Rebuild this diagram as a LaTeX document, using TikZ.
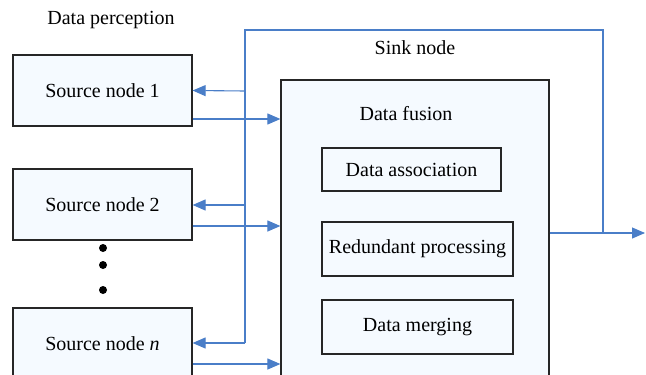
\documentclass[tikz,border=0pt]{standalone}
\usepackage{fontspec}
\setmainfont{Liberation Serif}
\usepackage{tikz}
\usetikzlibrary{arrows.meta, positioning}
\definecolor{flowblue}{RGB}{74,126,200}
\definecolor{boxfill}{RGB}{245,250,255}

\tikzset{
  srcbox/.style={draw=black!85, line width=0.6pt, fill=boxfill,
    minimum width=89.5pt, minimum height=35.5pt, inner sep=0pt},
  subbox/.style={draw=black!85, line width=0.6pt, fill=boxfill, inner sep=0pt},
  flow/.style={draw=flowblue, line width=0.55pt},
  flowarr/.style={flow, -{Triangle[length=6.5pt,width=5.5pt]}}
}

\begin{document}
\begin{tikzpicture}[x=0.5pt, y=-0.5pt]
  \clip (0,0) rectangle (646,374);
  \node (percep) at (111,20) {Data perception};
  \node[srcbox] (src1) at (102.5,90.5) {Source node 1};
  \node[srcbox] (src2) at (102.5,204.5) {Source node 2};
  \node[srcbox] (srcn) at (102.5,343.5) {Source node \textit{n}};
  \foreach \y in {248,265,290}
    \fill (103,\y) circle (2pt);

  \node[subbox, minimum width=134pt, minimum height=153pt] (fusion) at (415,233) {};
  \node (sink) at (415,48) {Sink node};
  \node (fustitle) at (406,114) {Data fusion};
  \node[subbox, minimum width=89.5pt, minimum height=21.5pt] (assoc) at (411.5,169.5) {Data association};
  \node[subbox, minimum width=95.5pt, minimum height=27pt] (redund) at (417.5,249) {Redundant processing};
  \node[subbox, minimum width=95.5pt, minimum height=27pt] (merge) at (417.5,327) {Data merging};

  % output and feedback
  \coordinate (out) at (645,233);
  \coordinate (fbr) at (603,233);
  \coordinate (fbl) at (245,30);
  \draw[flowarr] (fusion.east) -- (out);
  \draw[flow] (fbr) -- (fbr |- fbl) -- (fbl) -- (245,343);
  \draw[flowarr] (245,91) -- (src1.east);
  \draw[flowarr] (245,205) -- (src2.east |- 0,205);
  \draw[flowarr] (245,343) -- (srcn.east |- 0,343);

  % sources to fusion
  \draw[flowarr] (src1.east |- 0,119) -- (fusion.west |- 0,119);
  \draw[flowarr] (src2.east |- 0,226) -- (fusion.west |- 0,226);
  \draw[flowarr] (srcn.east |- 0,364) -- (fusion.west |- 0,364);
\end{tikzpicture}
\end{document}
